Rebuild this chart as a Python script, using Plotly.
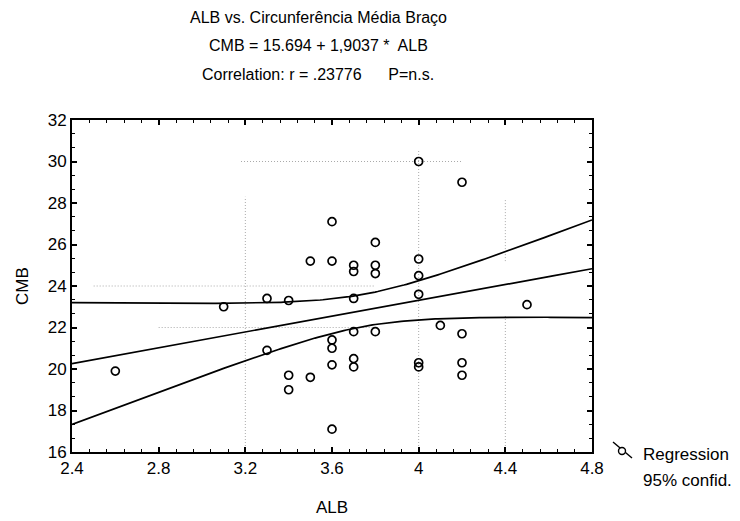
import numpy as np
import plotly.graph_objects as go

# ---- data ----
alb = [2.6, 3.1, 3.3, 3.3, 3.4, 3.4, 3.4, 3.5, 3.5, 3.6, 3.6, 3.6, 3.6, 3.6, 3.6,
       3.7, 3.7, 3.7, 3.7, 3.7, 3.7, 3.8, 3.8, 3.8, 3.8, 4.0, 4.0, 4.0, 4.0, 4.0, 4.0,
       4.1, 4.2, 4.2, 4.2, 4.2, 4.5]
cmb = [19.9, 23.0, 23.4, 20.9, 23.3, 19.7, 19.0, 25.2, 19.6, 27.1, 25.2, 21.4, 21.0, 20.2, 17.1,
       25.0, 24.7, 23.4, 21.8, 20.5, 20.1, 26.1, 25.0, 24.6, 21.8, 30.0, 25.3, 24.5, 23.6, 20.3, 20.1,
       22.1, 29.0, 21.7, 20.3, 19.7, 23.1]

# regression coefficients (from the title) and band statistics
intercept = 15.694
slope = 1.9037
t_crit = 2.03      # 95%, n-2 df
n_obs = 37
x_mean = 3.746
sxx = 5.0
resid_sd = 2.32

x_ticks = [2.4, 2.8, 3.2, 3.6, 4.0, 4.4, 4.8]
y_ticks = [16, 18, 20, 22, 24, 26, 28, 30, 32]

title_lines = ["ALB vs. Circunferência Média Braço",
               "CMB = 15.694 + 1,9037 *  ALB",
               "Correlation: r = .23776      P=n.s."]
legend_labels = ["Regression", "95% confid."]

FONT = "Liberation Sans, Arial, sans-serif"

# ---- geometry: the page has an 8px body margin, so the figure is drawn 8px in ----
OFF = 8
W, H = 740 - OFF, 521 - OFF
ML, MT = 72 - OFF, 120 - OFF
PW, PH = 520, 332
MR, MB = W - ML - PW, H - MT - PH


def px(xp):  # page pixel -> paper x
    return (xp - OFF - ML) / PW


def py(yp):  # page pixel -> paper y
    return (H - MB - (yp - OFF)) / PH


# ---- regression + confidence band ----
xs = np.linspace(x_ticks[0], x_ticks[-1], 200)
ys = intercept + slope * xs
hw = t_crit * resid_sd * np.sqrt(1 / n_obs + (xs - x_mean) ** 2 / sxx)

fig = go.Figure()
line_style = dict(color="black", width=1.7)
fig.add_trace(go.Scatter(x=xs, y=ys + hw, mode="lines", line=line_style, showlegend=False, hoverinfo="skip"))
fig.add_trace(go.Scatter(x=xs, y=ys, mode="lines", line=line_style, showlegend=False, hoverinfo="skip"))
fig.add_trace(go.Scatter(x=xs, y=ys - hw, mode="lines", line=line_style, showlegend=False, hoverinfo="skip"))
fig.add_trace(go.Scatter(x=alb, y=cmb, mode="markers",
                         marker=dict(symbol="circle-open", size=8, color="black", line=dict(width=1.7)),
                         showlegend=False))

# faint dotted grid remnants
grid_style = dict(color="#aaaaaa", width=1, dash="1px,2px")
for x0, x1, y0, y1 in [(3.2, 3.2, 16, 28.3), (4.0, 4.0, 16, 30.6), (4.4, 4.4, 25.2, 28.2),
                       (4.4, 4.4, 16, 22.6), (3.18, 4.2, 30, 30), (2.5, 3.8, 24, 24),
                       (2.8, 3.8, 22, 22)]:
    fig.add_shape(type="line", x0=x0, x1=x1, y0=y0, y1=y1, line=grid_style, layer="below")

# legend icon and text
fig.add_shape(type="line", xref="paper", yref="paper", x0=px(613), x1=px(632), y0=py(442), y1=py(458),
              line=dict(color="black", width=1.4))
fig.add_shape(type="circle", xref="paper", yref="paper", x0=px(618.5), x1=px(625.5), y0=py(454.5), y1=py(447.5),
              line=dict(color="black", width=1.4), fillcolor="white")
for i, lab in enumerate(legend_labels):
    fig.add_annotation(text=lab, xref="paper", yref="paper", x=px(641), y=py(455 + 25 * i),
                       xanchor="left", yanchor="middle", showarrow=False,
                       font=dict(family=FONT, size=17, color="black"))

# title lines
for i, t in enumerate(title_lines):
    fig.add_annotation(text=t, xref="paper", yref="paper", x=px(318), y=py(18 + 28 * i),
                       xanchor="center", yanchor="middle", showarrow=False,
                       font=dict(family=FONT, size=16, color="black"))

# axis titles
fig.add_annotation(text="ALB", xref="paper", yref="paper", x=px(332), y=py(508),
                   xanchor="center", yanchor="middle", showarrow=False,
                   font=dict(family=FONT, size=17, color="black"))
fig.add_annotation(text="CMB", xref="paper", yref="paper", x=px(22), y=py(286), textangle=-90,
                   xanchor="center", yanchor="middle", showarrow=False,
                   font=dict(family=FONT, size=17, color="black"))

axis_common = dict(showgrid=False, zeroline=False, showline=True, linecolor="black", linewidth=2,
                   mirror="allticks", ticks="inside", ticklen=5, tickwidth=1.5, tickcolor="black",
                   automargin=False,
                   tickfont=dict(family=FONT, size=17, color="black"))

fig.update_layout(
    width=W, height=H,
    margin=dict(l=ML, r=MR, t=MT, b=MB),
    paper_bgcolor="white", plot_bgcolor="white",
    font=dict(family=FONT, color="black"),
    xaxis=dict(range=[2.4, 4.8], tickmode="linear", tick0=2.4, dtick=0.4,
               minor=dict(dtick=0.08, tick0=2.4, ticks="inside", ticklen=3, tickcolor="black", tickwidth=1.2),
               **axis_common),
    yaxis=dict(range=[16, 32], tickmode="linear", tick0=16, dtick=2,
               minor=dict(dtick=2 / 3, tick0=16, ticks="inside", ticklen=3, tickcolor="black", tickwidth=1.2),
               **axis_common),
)

fig.write_html("out.html")
